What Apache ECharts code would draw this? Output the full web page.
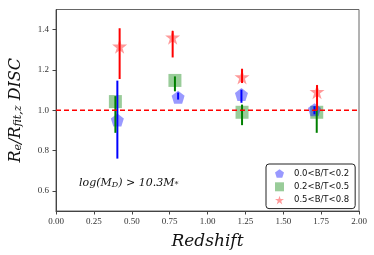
<!DOCTYPE html>
<html><head><meta charset="utf-8">
<script src="https://cdn.jsdelivr.net/npm/echarts@6/dist/echarts.min.js"></script>
<style>html,body{margin:0;padding:0;background:#fff}#c{width:374px;height:255px}</style>
</head><body><div id="c"></div>
<script>
// ---- data ----
const seriesNames = ['0.0<B/T<0.2', '0.2<B/T<0.5', '0.5<B/T<0.8'];
const blueZ   = [0.405, 0.806, 1.224, 1.706];
const blueV   = [0.952, 1.064, 1.078, 1.003];
const blueLo  = [0.760, 1.053, 1.037, 0.980];
const blueHi  = [1.147, 1.088, 1.102, 1.020];
const greenZ  = [0.392, 0.785, 1.228, 1.721];
const greenV  = [1.043, 1.148, 0.990, 0.990];
const greenLo = [0.888, 1.094, 0.926, 0.888];
const greenHi = [1.070, 1.168, 1.028, 1.020];
const redZ    = [0.420, 0.770, 1.228, 1.723];
const redV    = [1.317, 1.362, 1.165, 1.092];
const redLo   = [1.155, 1.262, 1.135, 1.000];
const redHi   = [1.407, 1.394, 1.206, 1.125];
const refLine = 1.0;
const xTicks = [0, 0.25, 0.5, 0.75, 1.0, 1.25, 1.5, 1.75, 2.0];
const yTicks = [0.6, 0.8, 1.0, 1.2, 1.4];

const STAR = 'path://M0,-1L0.2245,-0.309L0.951,-0.309L0.363,0.118L0.588,0.809L0,0.382L-0.588,0.809L-0.363,0.118L-0.951,-0.309L-0.2245,-0.309Z';
const PENT = 'path://M0,-1L0.951,-0.309L0.588,0.809L-0.588,0.809L-0.951,-0.309Z';

function pts(z, v){ return z.map((x,i)=>[x, v[i]]); }
function bars(z, lo, hi){ return z.map((x,i)=>[x, lo[i], hi[i]]); }

function errSeries(data, color){
  return {
    type:'custom', silent:true, z:5,
    data: data,
    renderItem: function(params, api){
      const a = api.coord([api.value(0), api.value(1)]);
      const b = api.coord([api.value(0), api.value(2)]);
      return {type:'line', shape:{x1:a[0], y1:a[1], x2:b[0], y2:b[1]},
              style:{stroke:color, lineWidth:2}};
    }
  };
}

const serif = 'DejaVu Serif';
const chart = echarts.init(document.getElementById('c'));
chart.setOption({
  animation:false,
  grid:{left:48, right:15, top:9.5, bottom:42.5, show:true, borderColor:'#666', borderWidth:1},
  xAxis:{
    type:'value', min:0, max:2,
    name:'Redshift', nameLocation:'middle', nameGap:22,
    nameTextStyle:{fontFamily:serif, fontStyle:'italic', fontSize:17, color:'#111'},
    axisLine:{show:true, lineStyle:{color:'#444'}},
    axisTick:{show:true, length:3.5, lineStyle:{color:'#444'}, customValues:xTicks},
    axisLabel:{fontFamily:'Liberation Serif', fontSize:9, color:'#333', margin:6,
      customValues:xTicks, formatter:v=>v.toFixed(2)},
    splitLine:{show:false}
  },
  yAxis:{
    type:'value', min:0.5, max:1.5,
    name:'{m|R}{s|e}{m|/R}{s|fit,z}{m| DISC}', nameLocation:'middle', nameGap:32,
    nameTextStyle:{fontFamily:serif, fontStyle:'italic', fontSize:16, color:'#111',
      rich:{
        m:{fontFamily:serif, fontStyle:'italic', fontSize:16, color:'#111'},
        s:{fontFamily:serif, fontStyle:'italic', fontSize:11, color:'#111', verticalAlign:'bottom', lineHeight:12}
      }},
    axisLine:{show:true, lineStyle:{color:'#444'}},
    axisTick:{show:true, length:3.5, lineStyle:{color:'#444'}, customValues:yTicks},
    axisLabel:{fontFamily:'Liberation Serif', fontSize:9, color:'#333', margin:7,
      customValues:yTicks, formatter:v=>v.toFixed(1)},
    splitLine:{show:false}
  },
  legend:{
    data: seriesNames, orient:'vertical', left:266, top:164,
    padding:[5,6,4,9], itemGap:4.3, itemWidth:9, itemHeight:9,
    backgroundColor:'#fff', borderColor:'#222', borderWidth:1, borderRadius:3,
    textStyle:{fontFamily:'DejaVu Sans', fontSize:8.5, color:'#111', padding:[0,0,0,5]}
  },
  graphic:[{
    type:'text', left:79, top:178,
    style:{text:'log(M{s|D}) > 10.3M{s|*}', fontFamily:serif, fontStyle:'italic', fontSize:11, fill:'#111',
      rich:{s:{fontFamily:serif, fontStyle:'italic', fontSize:8, verticalAlign:'bottom', fill:'#111'}}}
  }],
  series:[
    {name:seriesNames[0], type:'scatter', symbol:PENT, symbolSize:13, z:3,
     itemStyle:{color:'rgba(0,0,255,0.5)'}, data:pts(blueZ, blueV)},
    {name:seriesNames[1], type:'scatter', symbol:'rect', symbolSize:13, z:2,
     itemStyle:{color:'rgba(0,128,0,0.5)'}, data:pts(greenZ, greenV)},
    {name:seriesNames[2], type:'scatter', symbol:STAR, symbolSize:15, z:4,
     itemStyle:{color:'rgba(255,0,0,0.5)'}, data:pts(redZ, redV)},
    errSeries(bars(blueZ, blueLo, blueHi), '#0000ff'),
    errSeries(bars(greenZ, greenLo, greenHi), '#008000'),
    errSeries(bars(redZ, redLo, redHi), '#ff0000'),
    {type:'line', silent:true, symbol:'none', z:6, data:[[0, refLine],[2, refLine]],
     lineStyle:{color:'#ff0000', width:1.6, type:[5,3]}}
  ]
});
</script></body></html>
